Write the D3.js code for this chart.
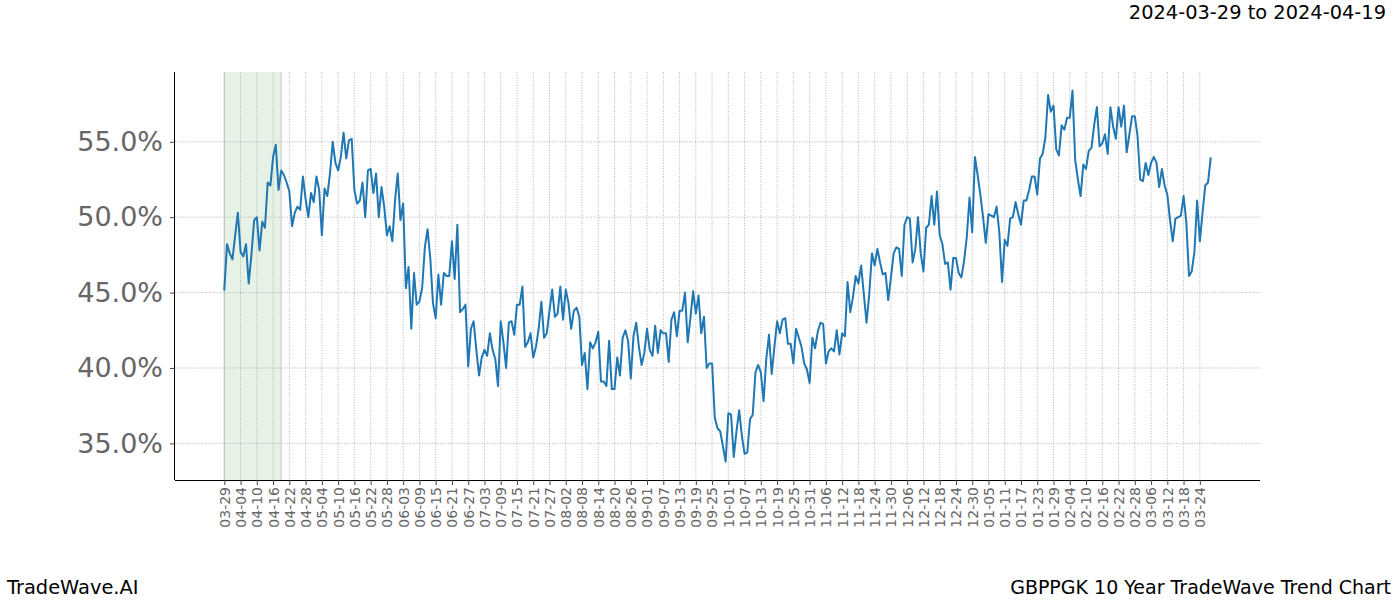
<!DOCTYPE html>
<html>
<head>
<meta charset="utf-8">
<script src="https://cdn.jsdelivr.net/npm/d3@7"></script>
<style>
  html, body { margin: 0; padding: 0; background: #fff; }
  svg { display: block; font-family: "DejaVu Sans", sans-serif; }
</style>
</head>
<body>
<svg id="chart" width="1400" height="600"></svg>
<script>
// ---------------- DATA ----------------
const startDate = "2024-03-29";
const highlightStart = "2024-03-29";
const highlightEnd = "2024-04-19";
const titleText = "2024-03-29 to 2024-04-19";
const leftFooter = "TradeWave.AI";
const rightFooter = "GBPPGK 10 Year TradeWave Trend Chart";

// daily trend values (%), one per calendar day starting at startDate
const values = [
  45.2,48.2,47.6,47.2,48.8,50.3,47.7,47.4,48.2,45.6,
  47.5,49.8,50.0,47.8,49.7,49.3,52.3,52.1,54.0,54.8,
  51.8,53.1,52.8,52.3,51.7,49.4,50.3,50.7,50.5,52.7,
  51.2,50.0,51.6,51.0,52.7,51.8,48.8,51.9,51.4,52.9,
  55.0,53.6,53.1,54.0,55.6,53.9,55.1,55.2,51.8,50.9,
  51.1,52.3,50.0,53.1,53.2,51.6,52.9,50.0,52.0,50.7,
  48.8,49.4,48.4,51.1,52.9,49.8,50.9,45.3,46.7,42.6,
  46.3,44.2,44.4,45.3,48.0,49.2,47.3,44.3,43.3,46.2,
  44.2,46.3,46.1,46.1,48.4,45.9,49.5,43.7,43.9,44.2,
  40.1,42.6,43.1,41.2,39.5,40.7,41.2,40.8,42.3,41.2,
  40.6,38.8,43.1,41.7,40.0,43.0,43.1,42.2,44.2,44.2,
  45.4,41.4,41.7,42.3,40.7,41.4,42.6,44.4,42.0,42.3,
  43.8,45.2,43.4,43.6,45.4,43.2,45.2,44.3,42.6,43.8,
  44.0,43.4,40.2,41.0,38.6,41.7,41.3,41.7,42.4,39.1,
  39.1,38.8,41.8,38.6,38.6,40.7,39.5,42.0,42.5,41.8,
  39.3,42.1,43.0,41.4,40.2,41.0,42.6,41.2,40.8,42.8,
  41.0,42.5,42.3,42.3,40.4,43.2,43.7,42.1,43.8,43.8,
  45.0,41.7,43.3,45.1,43.6,44.8,42.3,43.4,40.0,40.3,
  40.3,36.7,36.0,35.8,34.8,33.8,37.0,36.9,34.1,35.8,
  37.2,35.5,34.3,34.4,36.6,36.9,39.7,40.2,39.7,37.8,
  40.6,42.2,39.6,41.4,43.1,42.3,43.2,43.3,41.6,41.6,
  40.3,42.6,42.0,41.4,40.3,39.9,39.0,42.0,41.3,42.4,
  43.0,42.9,40.3,41.1,41.3,41.1,42.5,40.9,42.3,42.1,
  45.7,43.7,44.7,46.1,45.6,46.8,44.9,43.0,44.9,47.6,
  46.8,47.9,47.0,46.2,46.3,44.5,46.0,47.6,48.0,47.9,
  46.1,49.5,50.0,49.9,47.0,47.9,50.0,47.6,46.4,49.3,
  49.5,51.4,49.5,51.7,48.8,48.2,46.9,47.0,45.2,47.3,
  47.3,46.3,46.0,47.1,48.7,51.3,49.0,54.0,52.8,51.5,
  50.0,48.3,50.2,50.1,50.0,50.7,49.0,45.7,48.5,48.1,
  49.9,50.0,51.0,50.2,49.5,51.1,51.1,51.8,52.7,52.7,
  51.5,53.9,54.2,55.3,58.1,57.0,57.4,54.5,54.1,56.1,
  55.8,56.6,56.6,58.4,53.8,52.5,51.4,53.5,53.2,54.4,
  54.6,56.1,57.3,54.7,54.9,55.5,54.2,57.3,56.0,55.2,
  57.3,56.0,57.4,54.3,55.5,56.7,56.7,55.4,52.5,52.4,
  53.6,52.8,53.6,54.0,53.6,52.0,53.2,52.1,51.5,49.8,
  48.4,49.9,50.0,50.1,51.4,49.7,46.1,46.4,47.7,51.1,
  48.4,50.3,52.1,52.3,53.9
];

const xTickLabels = [
  "03-29","04-04","04-10","04-16","04-22","04-28","05-04","05-10","05-16","05-22",
  "05-28","06-03","06-09","06-15","06-21","06-27","07-03","07-09","07-15","07-21",
  "07-27","08-02","08-08","08-14","08-20","08-26","09-01","09-07","09-13","09-19",
  "09-25","10-01","10-07","10-13","10-19","10-25","10-31","11-06","11-12","11-18",
  "11-24","11-30","12-06","12-12","12-18","12-24","12-30","01-05","01-11","01-17",
  "01-23","01-29","02-04","02-10","02-16","02-22","02-28","03-06","03-12","03-18",
  "03-24"
];
const yTicks = [35, 40, 45, 50, 55];

// ---------------- CHART ----------------
const parse = d3.utcParse("%Y-%m-%d");
const start = parse(startDate);
const data = values.map((v, i) => ({ date: d3.utcDay.offset(start, i), value: v }));
const tickDates = xTickLabels.map(l => {
  let d = parse("2024-" + l);
  if (d < start) d = parse("2025-" + l);
  return d;
});

const plot = { left: 175, right: 1260, top: 72, bottom: 480 };
const svg = d3.select("#chart");

// matplotlib-like 5% margins
const xExt = d3.extent(data, d => d.date);
const xSpan = xExt[1] - xExt[0];
const x = d3.scaleUtc()
  .domain([new Date(+xExt[0] - 0.05 * xSpan), new Date(+xExt[1] + 0.05 * xSpan)])
  .range([plot.left, plot.right]);
const yExt = d3.extent(values);
const ySpan = yExt[1] - yExt[0];
const y = d3.scaleLinear()
  .domain([yExt[0] - 0.05 * ySpan, yExt[1] + 0.05 * ySpan])
  .range([plot.bottom, plot.top]);

// highlight span
const hx0 = x(parse(highlightStart)), hx1 = x(parse(highlightEnd));
svg.append("rect")
  .attr("x", hx0).attr("y", plot.top)
  .attr("width", hx1 - hx0).attr("height", plot.bottom - plot.top)
  .attr("fill", "green").attr("fill-opacity", 0.1);
[hx0, hx1].forEach(px => {
  svg.append("line")
    .attr("x1", px).attr("x2", px).attr("y1", plot.top).attr("y2", plot.bottom)
    .attr("stroke", "#000").attr("stroke-opacity", 0.13).attr("stroke-width", 1.5);
});

// grid
const grid = svg.append("g");
grid.selectAll("line.vg").data(tickDates).join("line")
  .attr("class", "vg")
  .attr("x1", d => x(d)).attr("x2", d => x(d))
  .attr("y1", plot.top).attr("y2", plot.bottom)
  .attr("stroke", "#a0a0a0").attr("stroke-width", 0.8)
  .attr("stroke-dasharray", "1,1.6");
grid.selectAll("line.hg").data(yTicks).join("line")
  .attr("class", "hg")
  .attr("x1", plot.left).attr("x2", plot.right)
  .attr("y1", d => y(d)).attr("y2", d => y(d))
  .attr("stroke", "#a0a0a0").attr("stroke-width", 0.8)
  .attr("stroke-dasharray", "1,1.6");

// line
const line = d3.line().x(d => x(d.date)).y(d => y(d.value));
svg.append("path")
  .datum(data)
  .attr("d", line)
  .attr("fill", "none")
  .attr("stroke", "#1f77b4")
  .attr("stroke-width", 2)
  .attr("stroke-linejoin", "round")
  .attr("stroke-linecap", "square");

// axes
const xAxis = d3.axisBottom(x)
  .tickValues(tickDates)
  .tickFormat((d, i) => xTickLabels[i])
  .tickSize(5).tickPadding(3);
const gx = svg.append("g")
  .attr("transform", `translate(0,${plot.bottom})`)
  .call(xAxis);
gx.select(".domain").attr("stroke", "#000").attr("stroke-width", 1)
  .attr("d", `M${plot.left},0.5H${plot.right}`);
gx.selectAll(".tick line").attr("stroke", "#444");
gx.selectAll(".tick text")
  .attr("font-family", "DejaVu Sans")
  .attr("font-size", 14)
  .attr("fill", "#666")
  .attr("text-anchor", "end")
  .attr("transform", "rotate(-90)")
  .attr("x", -7)
  .attr("y", 0)
  .attr("dy", "0.35em");

const yAxis = d3.axisLeft(y)
  .tickValues(yTicks)
  .tickFormat(d => d.toFixed(1) + "%")
  .tickSize(5).tickPadding(7);
const gy = svg.append("g")
  .attr("transform", `translate(${plot.left},0)`)
  .call(yAxis);
gy.select(".domain").attr("stroke", "#000").attr("stroke-width", 1)
  .attr("d", `M-0.5,${plot.top}V${plot.bottom}`);
gy.selectAll(".tick line").attr("stroke", "#444");
gy.selectAll(".tick text")
  .attr("font-family", "DejaVu Sans")
  .attr("font-size", 27)
  .attr("fill", "#666");

// texts
svg.append("text")
  .attr("x", 1386).attr("y", 19)
  .attr("text-anchor", "end")
  .attr("font-size", 19.4)
  .attr("fill", "#000")
  .text(titleText);
svg.append("text")
  .attr("x", 7).attr("y", 594)
  .attr("font-size", 19.4)
  .attr("fill", "#000")
  .text(leftFooter);
svg.append("text")
  .attr("x", 1391).attr("y", 594)
  .attr("text-anchor", "end")
  .attr("font-size", 19)
  .attr("fill", "#000")
  .text(rightFooter);
</script>
</body>
</html>
